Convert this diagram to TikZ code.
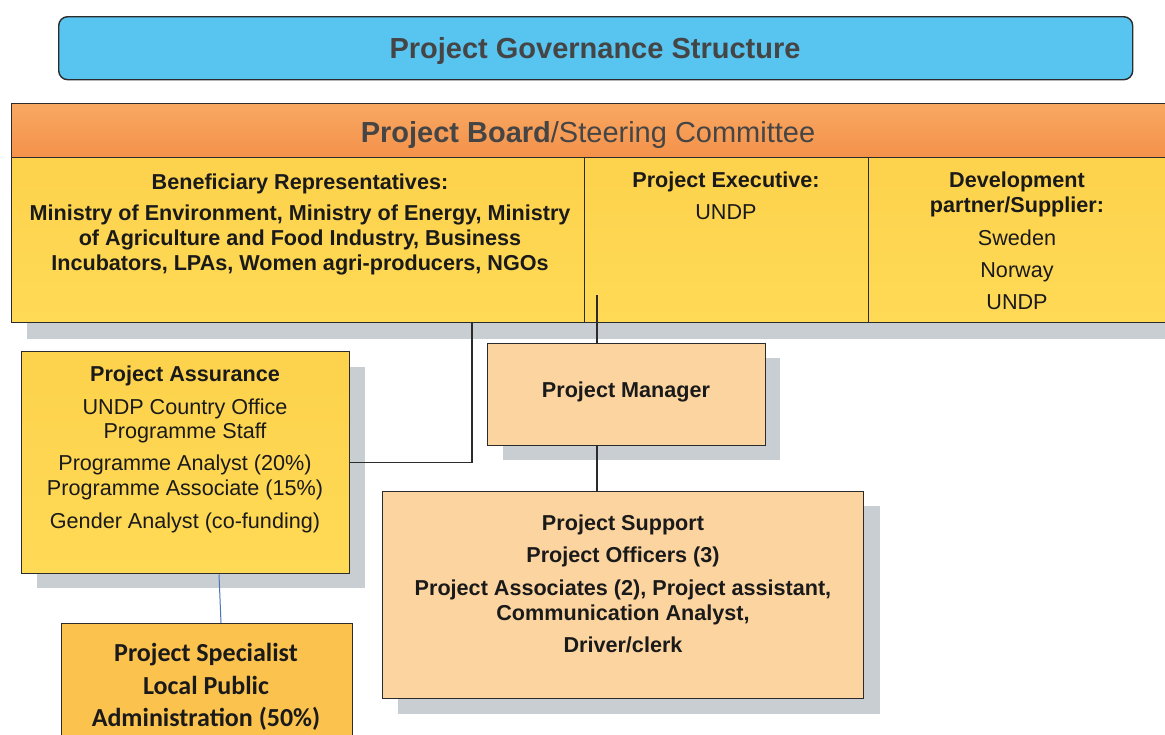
\documentclass[tikz,border=0pt]{standalone}
\usepackage{fontspec}
\setmainfont{Liberation Sans}
\newfontfamily\calibri{Carlito}
\begin{document}
\definecolor{titleblue}{HTML}{58C4F0}
\definecolor{boardorange}{HTML}{F4914A}
\definecolor{boardorangetop}{HTML}{F8A862}
\definecolor{cellyellow}{HTML}{FDD24C}
\definecolor{cellyellowlow}{HTML}{FFDA56}
\definecolor{peach}{HTML}{FCD4A0}
\definecolor{specorange}{HTML}{FBC24D}
\definecolor{shade}{HTML}{C9CED3}
\definecolor{edge}{HTML}{2B2B2B}
\definecolor{ink}{HTML}{1A1A1A}
\definecolor{headink}{HTML}{454545}
\definecolor{linkblue}{HTML}{4A76B8}
\begin{tikzpicture}[x=1pt,y=-1pt,
  frame/.style={draw=edge,line width=1.4pt,inner sep=0pt,anchor=north west},
  yellowcell/.style={frame,top color=cellyellow,bottom color=cellyellowlow},
  peachcell/.style={frame,fill=peach},
  shadowbox/.style={fill=shade,draw=none},
  body/.style={text=ink,align=center,inner sep=0pt,anchor=north,
    font=\fontsize{21.6}{25}\selectfont},
  conn/.style={draw=edge,line width=1.3pt}]
\useasboundingbox (0,0) rectangle (1165,734);
\fill[white] (0,0) rectangle (1165,734);
\begin{scope}
\clip (0,0) rectangle (1165,734);

% drop shadows
\fill[shadowbox] (27,119) rectangle (1190,339);
\fill[shadowbox] (37,367) rectangle (365,588);
\fill[shadowbox] (503,358) rectangle (780,460);
\fill[shadowbox] (398,506) rectangle (880,714);

% title banner
\node[draw=edge,line width=1.4pt,rounded corners=9pt,fill=titleblue,
  minimum width=1074pt,minimum height=63pt,anchor=north west,inner sep=0pt]
  (title) at (58,16) {};
\node[anchor=base,inner sep=0pt,text=headink,
  font=\fontsize{29}{34}\selectfont\bfseries] (titletext) at (595,58.4)
  {Project Governance Structure};

% project board header
\node[frame,top color=boardorangetop,bottom color=boardorange,
  minimum width=1170pt,minimum height=54pt] (board) at (11,103) {};
\node[anchor=base,inner sep=0pt,text=headink,
  font=\fontsize{29}{34}\selectfont] (boardtext) at (588,142.4)
  {\textbf{Project Board}/Steering Committee};

% board members
\node[yellowcell,minimum width=573pt,minimum height=165pt] (ben) at (11,157) {};
\node[yellowcell,minimum width=284pt,minimum height=165pt] (exe) at (584,157) {};
\node[yellowcell,minimum width=310pt,minimum height=165pt] (dev) at (868,157) {};

\node[body,font=\fontsize{21.6}{25}\selectfont\bfseries] (bentext) at (300,174)
  {Beneficiary Representatives:\\[6pt]
   Ministry of Environment, Ministry of Energy, Ministry\\
   of Agriculture and Food Industry, Business\\
   Incubators, LPAs, Women agri-producers, NGOs};
\node[body] (exetext) at (726,172)
  {\textbf{Project Executive:}\\[7pt] UNDP};
\node[body] (devtext) at (1017,172)
  {\textbf{Development}\\ \textbf{partner/Supplier:}\\[7.5pt]
   Sweden\\[7.5pt] Norway\\[7pt] UNDP};

% project assurance
\node[yellowcell,minimum width=328pt,minimum height=222pt] (asr) at (21,351) {};
\node[body,font=\fontsize{21.6}{24.5}\selectfont] (asrtext) at (185,366)
  {\textbf{Project Assurance}\\[8pt]
   UNDP Country Office\\ Programme Staff\\[7.5pt]
   Programme Analyst (20\%)\\ Programme Associate (15\%)\\[9pt]
   Gender Analyst (co-funding)};

% project manager
\node[peachcell,minimum width=278pt,minimum height=102pt] (pm) at (487,343) {};
\node[anchor=base,inner sep=0pt,text=ink,
  font=\fontsize{21.6}{25}\selectfont\bfseries] (pmtext) at (626,397.7)
  {Project Manager};

% project support
\node[peachcell,minimum width=481pt,minimum height=207pt] (ps) at (382,491) {};
\node[body,font=\fontsize{21.6}{25}\selectfont\bfseries] (pstext) at (623,515)
  {Project Support\\[7pt]
   Project Officers (3)\\[8pt]
   Project Associates (2), Project assistant,\\
   Communication Analyst,\\[7pt]
   Driver/clerk};

% project specialist
\node[frame,fill=specorange,minimum width=291pt,minimum height=140pt] (spec) at (61,623) {};
\node[body,font=\fontsize{26}{32.5}\selectfont\calibri\bfseries] (spectext) at (206,643.4)
  {Project Specialist\\ Local Public\\ Administration (50\%)};

% connectors
\coordinate (benfoot) at (472,0);
\coordinate (exefoot) at (597,295);
\draw[conn] (benfoot |- ben.south) |- (asr.east);
\draw[conn] (exefoot) -- (exefoot |- pm.north);
\draw[conn] (exefoot |- pm.south) -- (exefoot |- ps.north);
\coordinate (asrfoot) at (219,0);
\coordinate (spectop) at (221,0);
\draw[draw=linkblue,line width=1pt] (asrfoot |- asr.south) -- (spectop |- spec.north);
\end{scope}
\end{tikzpicture}
\end{document}
